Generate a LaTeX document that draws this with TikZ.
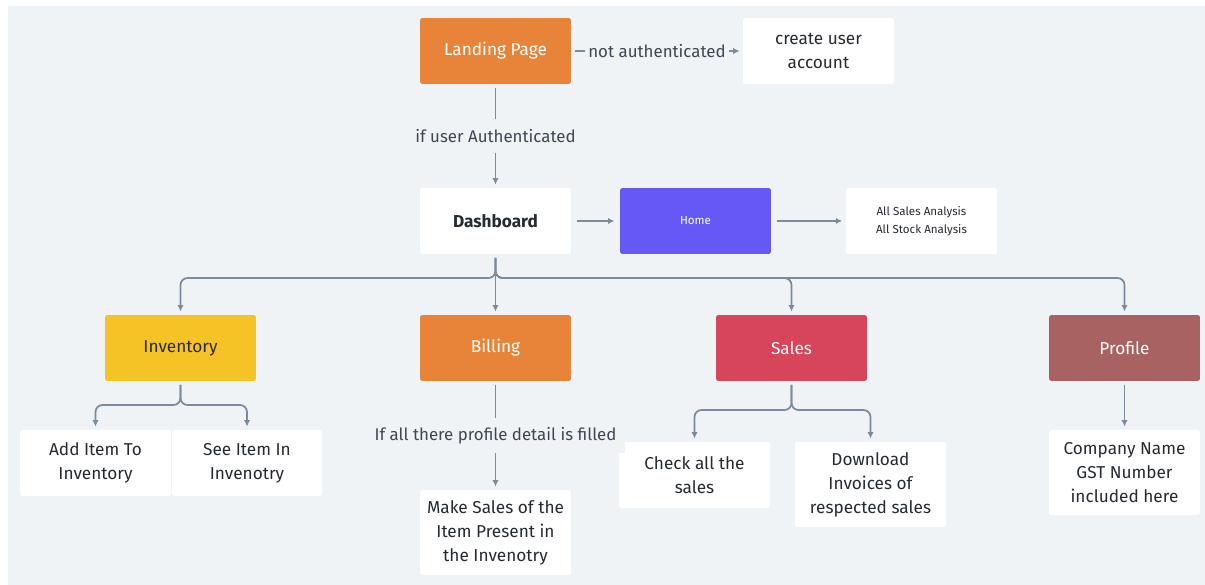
\documentclass[tikz,border=0pt]{standalone}
\usepackage{fontspec}
\setmainfont{Fira Sans}
\usepackage{tikz}
\usetikzlibrary{arrows.meta,calc,positioning}
\definecolor{pagebg}{HTML}{EFF3F6}
\definecolor{boxorange}{HTML}{E8843A}
\definecolor{boxpurple}{HTML}{6658F5}
\definecolor{boxyellow}{HTML}{F6C326}
\definecolor{boxred}{HTML}{D6455A}
\definecolor{boxbrown}{HTML}{A86262}
\definecolor{linegray}{HTML}{7A8B9B}
\definecolor{labeltext}{HTML}{3C4753}
\definecolor{darktext}{HTML}{262B31}

\begin{document}
\begin{tikzpicture}[x=0.02cm,y=-0.02cm,>={Latex[length=3.6pt,width=3.6pt]},
  box/.style={rectangle,rounded corners=1pt,minimum width=3.02cm,minimum height=1.32cm,
    align=center,font=\fontsize{9.8}{13.6}\selectfont,inner sep=2pt},
  colbox/.style={box,text=white},
  whbox/.style={box,fill=white,text=darktext},
  conn/.style={linegray,line width=1pt,shorten >=1.8pt,shorten <=2pt},
  lbl/.style={fill=pagebg,text=labeltext,inner sep=2pt,font=\fontsize{9.6}{11}\selectfont}]
\useasboundingbox (0,0) rectangle (1205,585);
\fill[pagebg] (8,6) rectangle (1205,585);

% top row
\node[colbox,fill=boxorange] (land) at (495.5,51) {Landing Page};
\node[whbox] (acct) at (818.5,51) {create user\\account};

% dashboard row
\node[whbox,font=\fontsize{9.8}{13.6}\selectfont\bfseries] (dash) at (495.5,221) {Dashboard};
\node[colbox,fill=boxpurple,font=\fontsize{6.6}{10}\selectfont] (home) at (695.5,221) {Home};
\node[whbox,font=\fontsize{6.6}{10.2}\selectfont] (stats) at (921.5,221) {All Sales Analysis\\All Stock Analysis};

% sections
\node[box,fill=boxyellow,text=darktext] (inv) at (180.5,348) {Inventory};
\node[colbox,fill=boxorange] (bill) at (495.5,348) {Billing};
\node[colbox,fill=boxred] (sales) at (791.5,348) {Sales};
\node[colbox,fill=boxbrown] (prof) at (1124.5,348) {Profile};

% leaves
\node[whbox] (additem) at (95.5,463) {Add Item To\\Inventory};
\node[whbox,minimum width=3cm] (seeitem) at (247,463) {See Item In\\Invenotry};
\node[whbox,minimum height=1.7cm] (mksale) at (495.5,532.5) {Make Sales of the\\Item Present in\\the Invenotry};
\node[whbox] (chkall) at (694.5,475) {Check all the\\sales};
\node[whbox,minimum height=1.7cm] (dlinv) at (870.5,484.5) {Download\\Invoices of\\respected sales};
\node[whbox,minimum height=1.7cm] (cmpny) at (1124.5,472.5) {Company Name\\GST Number\\included here};

% connectors
\draw[conn,->] (land.east) -- node[lbl]{not authenticated} (acct.west);
\draw[conn,->] (land.south) -- node[lbl,inner sep=6pt]{if user Authenticated} (dash.north);
\draw[conn,->,shorten <=3pt,shorten >=3pt] (dash.east) -- (home.west);
\draw[conn,->,shorten <=3pt,shorten >=2pt] (home.east) -- (stats.west);

\coordinate (djn) at (495.5,278);
\draw[conn,->,rounded corners=4pt] (dash.south) -- (djn) -| (inv.north);
\draw[conn,->,rounded corners=4pt] (dash.south) -- (djn) -| (sales.north);
\draw[conn,->,rounded corners=4pt] (dash.south) -- (djn) -| (prof.north);
\draw[conn,->] (dash.south) -- (bill.north);

\coordinate (ijn) at (180.5,405);
\draw[conn,->,rounded corners=4pt] (inv.south) -- (ijn) -| (additem.north);
\draw[conn,->,rounded corners=4pt] (inv.south) -- (ijn) -| (seeitem.north);

\draw[conn,->] (bill.south) -- node[lbl,inner sep=5pt]{If all there profile detail is filled} (mksale.north);

\coordinate (sjn) at (791.5,410);
\draw[conn,->,rounded corners=4pt] (sales.south) -- (sjn) -| (chkall.north);
\draw[conn,->,rounded corners=4pt] (sales.south) -- (sjn) -| (dlinv.north);

\draw[conn,->] (prof.south) -- (cmpny.north);
\end{tikzpicture}
\end{document}
